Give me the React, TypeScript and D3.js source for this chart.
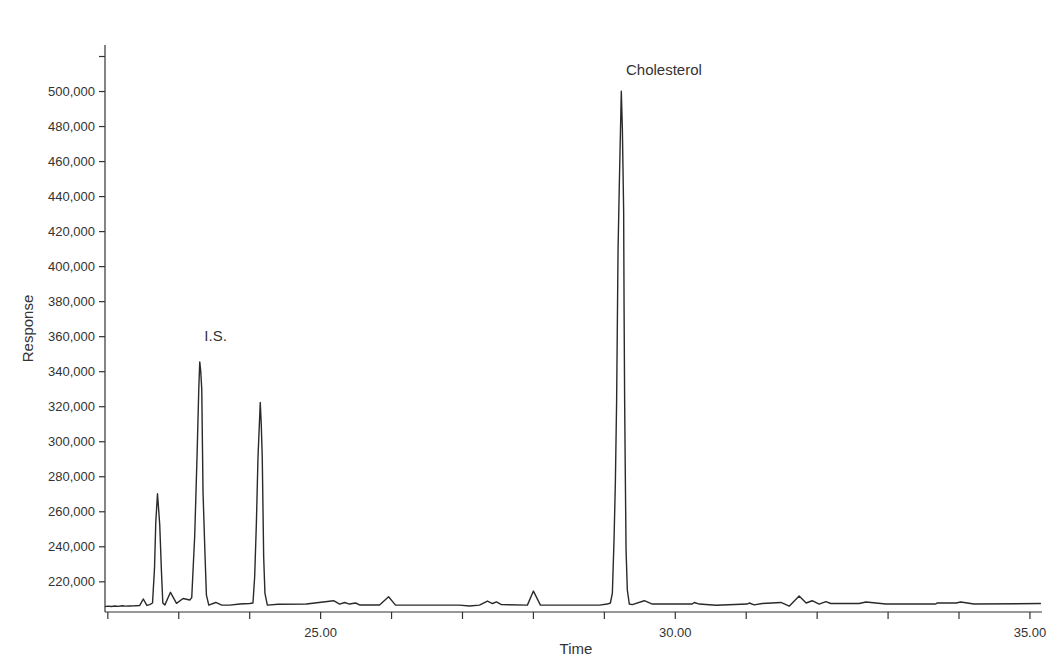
import React from "react";
import * as d3 from "d3";

const times: number[] = [
  21.96, 22.0, 22.05, 22.1, 22.15, 22.2, 22.25, 22.3, 22.38, 22.45, 22.5, 22.55, 22.59, 22.63,
  22.658, 22.676, 22.7, 22.715, 22.732, 22.756, 22.775, 22.803, 22.883, 22.968, 23.061, 23.155,
  23.183, 23.225, 23.258, 23.282, 23.296, 23.31, 23.324, 23.342, 23.37, 23.39, 23.423, 23.521,
  23.606, 23.72, 23.86, 24.0, 24.046, 24.07, 24.094, 24.117, 24.149, 24.163, 24.177, 24.197,
  24.215, 24.249, 24.4, 24.8, 25.183, 25.268, 25.338, 25.408, 25.493, 25.549, 25.831, 25.958,
  26.056, 26.958, 27.099, 27.239, 27.352, 27.423, 27.479, 27.549, 27.915, 28.0, 28.099, 28.93,
  29.042, 29.085, 29.113, 29.137, 29.155, 29.173, 29.193, 29.211, 29.239, 29.254, 29.272, 29.278,
  29.286, 29.296, 29.306, 29.324, 29.352, 29.394, 29.563, 29.676, 30.239, 30.268, 30.338, 30.573,
  31.014, 31.042, 31.113, 31.225, 31.489, 31.606, 31.746, 31.845, 31.93, 32.028, 32.123, 32.193,
  32.592, 32.69, 32.968, 33.672, 33.69, 33.958, 34.024, 34.211, 35.155,
];

const responses: number[] = [
  205800, 206100, 205900, 206200, 206000, 206300, 206100, 206200, 206300, 206500, 210200, 206500,
  207000, 207900, 227800, 254100, 270300, 262000, 252300, 225700, 207900, 206700, 214000, 207700,
  210500, 209600, 211000, 246600, 292100, 330000, 345600, 340000, 330200, 271200, 235200, 212400,
  206700, 208200, 206700, 206700, 207300, 207600, 207900, 222900, 253200, 291100, 322400, 310000,
  291100, 234200, 213400, 206700, 207200, 207300, 209200, 207300, 208200, 207300, 207900, 206800,
  206800, 211500, 206700, 206700, 206200, 206700, 209000, 207600, 208500, 207000, 206700, 214700,
  206700, 206700, 207300, 207900, 213600, 244900, 276200, 323400, 409300, 446900, 500200, 478700,
  432000, 376300, 323400, 279000, 238000, 215300, 207300, 207000, 209200, 207300, 207300, 208200,
  207300, 206600, 207300, 207900, 206800, 207600, 208200, 206100, 211900, 207900, 209200, 207300,
  208700, 207600, 207600, 208500, 207300, 207300, 207900, 207900, 208500, 207300, 207600,
];

const yTickValues: number[] = [220000, 240000, 260000, 280000, 300000, 320000, 340000, 360000, 380000, 400000, 420000, 440000, 460000, 480000, 500000, 520000];
const yLabeledMax = 500000;
const xTickValues: number[] = [22, 23, 24, 25, 26, 27, 28, 29, 30, 31, 32, 33, 34, 35];
const xLabeled: number[] = [25, 30, 35];

const annotations = [
  { label: "I.S.", time: 23.36, value: 357500 },
  { label: "Cholesterol", time: 29.305, value: 509700 },
];

const W = 1061;
const H = 663;
const left = 105;
const right = 1042;
const top = 45;
const bottom = 612;

export default function App() {
  const x = d3.scaleLinear().domain([21.96, 35.17]).range([left, right]);
  const y = d3.scaleLinear().domain([202760, 526570]).range([bottom, top]);
  const pts: [number, number][] = times.map((t, i) => [t, responses[i]]);
  const line = d3
    .line<[number, number]>()
    .x((d) => x(d[0]))
    .y((d) => y(d[1]));
  const fmt = d3.format(",");
  const font = "'Liberation Sans', Arial, sans-serif";
  const textColor = "#333";
  return (
    <svg
      width={W}
      height={H}
      style={{ position: "absolute", left: 0, top: 0, background: "#fff" }}
      fontFamily={font}
    >
      <rect width={W} height={H} fill="#fff" />
      <line x1={left} x2={left} y1={top} y2={bottom} stroke="#333" strokeWidth={1.2} />
      {yTickValues.map((v) => (
        <g key={v}>
          <line x1={left - 6} x2={left} y1={y(v)} y2={y(v)} stroke="#333" strokeWidth={1.2} />
          {v <= yLabeledMax && (
            <text x={left - 10} y={y(v)} dy="0.35em" textAnchor="end" fontSize={13} fill={textColor}>
              {fmt(v)}
            </text>
          )}
        </g>
      ))}
      <line x1={left} x2={right} y1={bottom} y2={bottom} stroke="#333" strokeWidth={1.2} />
      {xTickValues.map((t) => (
        <g key={t}>
          <line x1={x(t)} x2={x(t)} y1={bottom} y2={bottom + 7} stroke="#333" strokeWidth={1.2} />
          {xLabeled.includes(t) && (
            <text x={x(t)} y={bottom + 25} textAnchor="middle" fontSize={13} fill={textColor}>
              {t.toFixed(2)}
            </text>
          )}
        </g>
      ))}
      <text x={576} y={654} textAnchor="middle" fontSize={15} fill={textColor}>
        Time
      </text>
      <text
        transform={`translate(33, ${(top + bottom) / 2}) rotate(-90)`}
        textAnchor="middle"
        fontSize={15}
        fill={textColor}
      >
        Response
      </text>
      <path d={line(pts) || ""} fill="none" stroke="#2a2a2a" strokeWidth={1.4} strokeLinejoin="round" />
      {annotations.map((a) => (
        <text key={a.label} x={x(a.time)} y={y(a.value)} fontSize={15} fill={textColor}>
          {a.label}
        </text>
      ))}
    </svg>
  );
}
